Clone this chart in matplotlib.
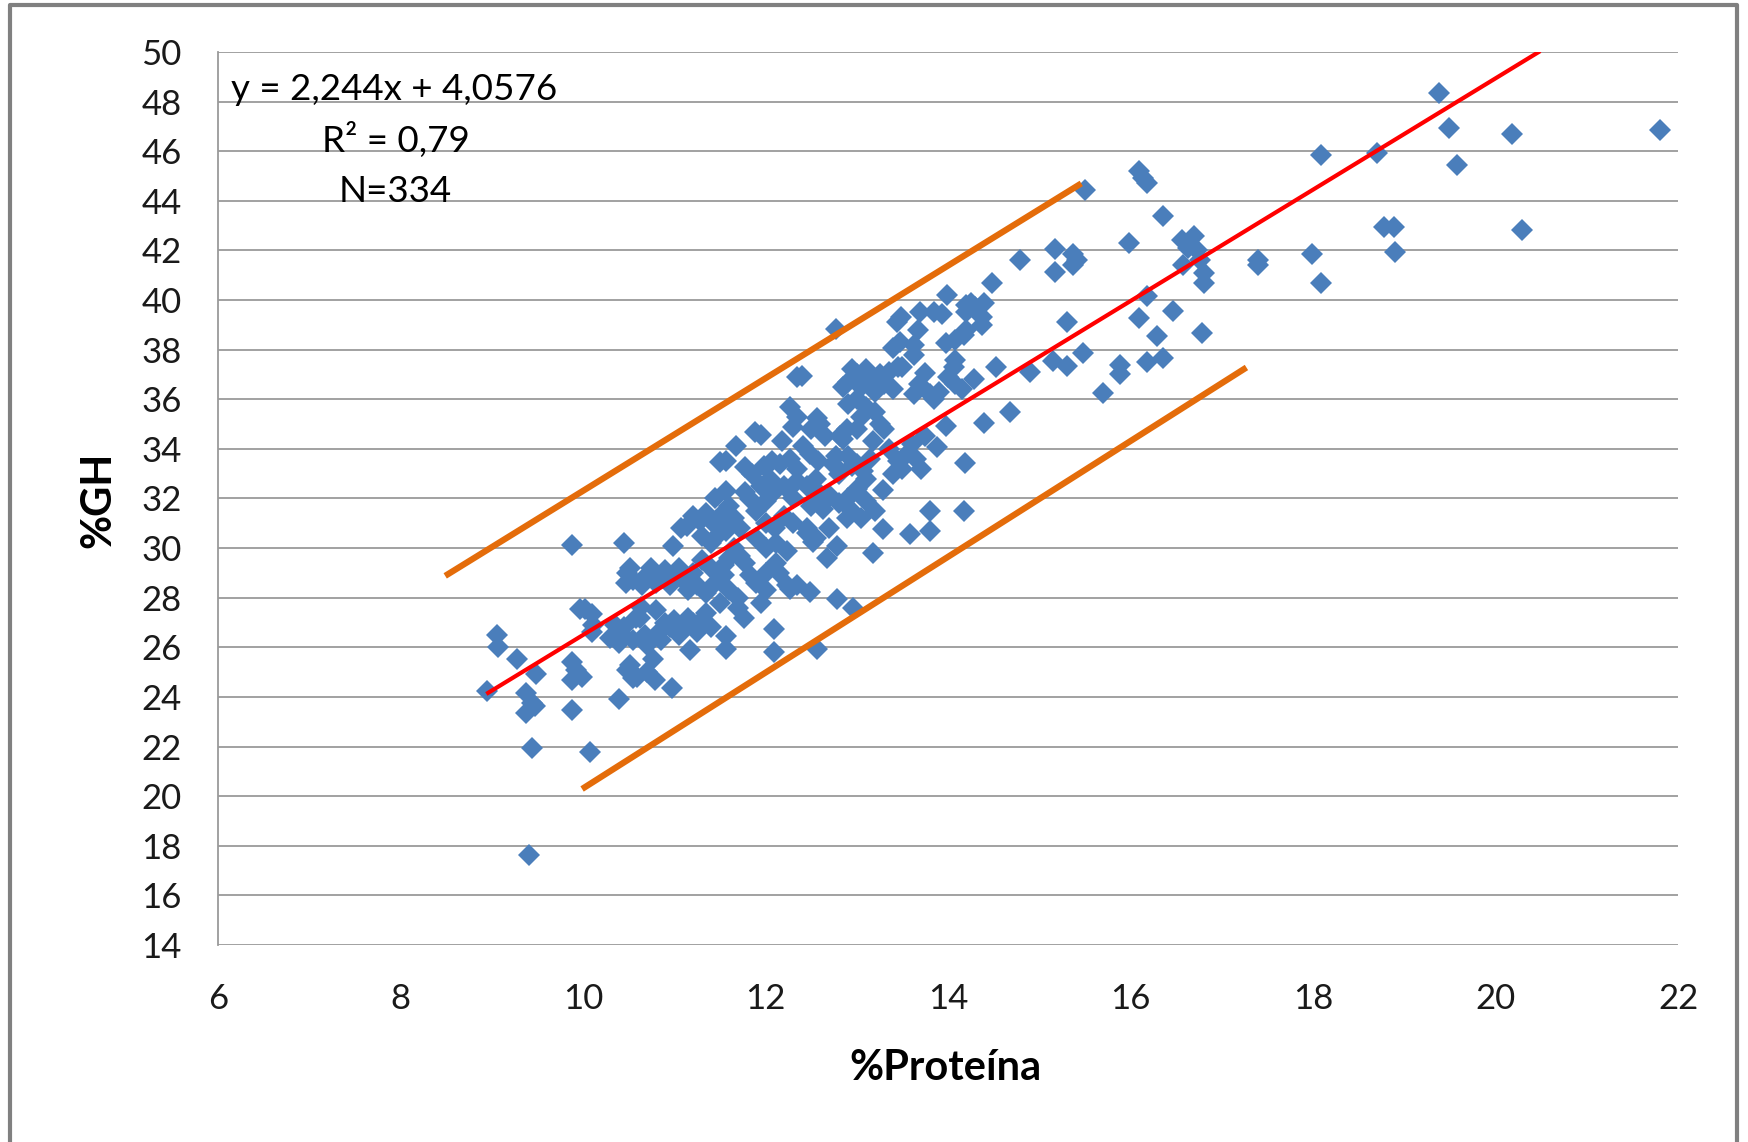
import matplotlib
matplotlib.use("Agg")
import matplotlib.pyplot as plt
from matplotlib.lines import Line2D

plt.rcParams["font.family"] = ["Lato", "DejaVu Sans"]

# puntos (%Proteína, %GH), por franjas de proteína
band_a = [(8.95, 24.25), (9.06, 26.49), (9.07, 26.02), (9.28, 25.51), (9.37, 24.17),
          (9.38, 23.36), (9.44, 23.75), (9.47, 23.63), (9.48, 24.92), (9.44, 21.95),
          (9.41, 17.62), (9.88, 30.13), (9.88, 25.42), (9.88, 24.7), (9.88, 23.47),
          (9.99, 24.8), (9.97, 27.55), (9.92, 25.1)]
band_b = [(10.02, 27.56), (10.1, 27.36), (10.11, 26.9), (10.08, 21.79), (10.1, 26.6),
          (10.3, 26.36), (10.39, 26.16), (10.4, 26.6), (10.39, 23.9), (10.45, 30.2),
          (10.48, 25.08), (10.59, 24.81), (10.47, 28.6), (10.48, 29.0), (10.52, 29.2),
          (10.55, 28.7), (10.35, 26.9), (10.45, 26.8), (10.55, 26.3), (10.58, 27.2),
          (10.52, 25.3), (10.55, 24.75)]
band_c = [(10.64, 27.63), (10.62, 27.17), (10.68, 26.49), (10.7, 25.01), (10.79, 24.68),
          (10.77, 25.51), (10.98, 24.38), (10.85, 26.7), (10.95, 26.8), (11.0, 27.1),
          (10.9, 27.0), (11.05, 26.5), (10.99, 30.08), (10.7, 28.9), (10.75, 29.2),
          (10.8, 28.6), (10.85, 28.9), (10.9, 29.1), (10.95, 28.5), (11.0, 28.8),
          (11.05, 29.2), (11.1, 28.7), (11.15, 28.3), (10.65, 28.5), (10.8, 27.5),
          (10.7, 26.1), (10.86, 26.3), (11.1, 26.8), (11.15, 27.2), (11.17, 25.9),
          (11.07, 30.8), (11.14, 30.9)]
band_d = [(11.2, 27.0), (11.3, 27.1), (11.25, 26.6), (11.4, 26.8), (11.35, 27.4),
          (11.57, 26.45), (11.57, 25.95), (11.76, 27.17), (11.7, 27.6), (11.21, 31.3),
          (11.28, 31.1), (11.35, 31.4), (11.43, 31.0), (11.5, 31.3), (11.3, 30.5),
          (11.4, 30.2), (11.5, 30.6), (11.57, 30.7), (11.65, 31.2), (11.72, 30.8),
          (11.65, 30.0), (11.72, 29.7), (11.78, 29.4), (11.6, 29.6), (11.4, 29.2),
          (11.3, 29.5), (11.2, 29.0), (11.25, 28.5), (11.35, 28.2), (11.45, 28.6),
          (11.55, 28.9), (11.6, 28.3), (11.7, 28.0), (11.5, 27.8), (11.68, 34.13),
          (11.5, 33.46), (11.57, 33.53), (11.78, 33.26), (11.57, 32.32), (11.78, 32.25),
          (11.45, 32.0), (11.6, 31.7), (11.55, 29.3)]
band_e = [(11.88, 34.69), (11.95, 34.55), (11.98, 33.3), (12.07, 33.5), (12.16, 33.4),
          (12.27, 33.6), (12.18, 34.3), (12.27, 35.69), (12.34, 35.3), (12.3, 34.9),
          (12.34, 36.89), (12.4, 36.95), (11.83, 31.99), (12.01, 31.9), (12.1, 32.3),
          (12.2, 32.5), (12.3, 32.0), (12.35, 32.7), (11.9, 31.5), (12.0, 31.0),
          (12.1, 30.8), (12.2, 31.3), (12.3, 31.0), (11.9, 30.4), (12.0, 30.0),
          (12.12, 30.2), (12.23, 29.9), (12.12, 29.4), (12.0, 29.0), (11.9, 28.6),
          (11.83, 28.9), (12.0, 28.3), (12.23, 28.5), (12.34, 28.5), (12.27, 28.36),
          (12.09, 26.75), (12.09, 25.8), (11.95, 27.8), (12.15, 29.0), (12.35, 33.2),
          (11.85, 33.0), (12.05, 32.8), (11.95, 32.5)]
band_f = [(12.45, 30.8), (12.52, 30.24), (12.67, 29.6), (12.78, 30.1), (12.49, 28.23),
          (12.78, 27.96), (12.96, 27.6), (12.56, 25.95), (12.56, 35.23), (12.41, 34.1),
          (12.49, 33.8), (12.74, 33.4), (12.8, 33.0), (12.77, 33.7), (12.71, 32.1),
          (12.63, 31.56), (12.45, 30.6), (12.82, 34.5), (12.89, 34.8), (12.85, 34.4),
          (12.45, 32.5), (12.55, 32.8), (12.6, 32.2), (12.5, 31.7), (12.58, 33.5),
          (12.65, 34.5), (12.5, 34.8), (12.6, 35.0), (12.77, 38.85), (12.9, 36.7),
          (12.95, 37.2), (12.85, 36.5), (12.9, 35.8), (12.9, 32.0), (12.95, 31.5),
          (12.89, 31.2), (12.8, 31.8), (12.55, 30.4), (12.7, 30.8), (12.95, 33.3),
          (12.9, 33.7)]
band_g = [(13.0, 37.0), (13.05, 36.5), (13.1, 37.2), (13.15, 36.8), (13.2, 36.3),
          (13.25, 37.0), (13.3, 36.6), (13.35, 37.1), (13.4, 36.4), (13.45, 37.3),
          (13.0, 36.0), (13.1, 35.7), (13.2, 35.5), (13.25, 35.0), (13.3, 34.8),
          (13.18, 34.3), (13.4, 38.07), (13.44, 39.1), (13.48, 39.3), (13.47, 38.3),
          (13.5, 37.3), (13.5, 33.2), (13.55, 33.8), (13.45, 33.5), (13.0, 33.4),
          (13.07, 33.1), (13.29, 32.33), (13.0, 32.4), (13.1, 31.9), (13.2, 31.5),
          (13.29, 30.76), (13.18, 29.8), (13.05, 31.2), (13.1, 32.8), (13.15, 33.6),
          (13.0, 34.8), (13.05, 35.3), (13.35, 34.0), (13.4, 33.0)]
band_h = [(13.69, 39.5), (13.67, 38.8), (13.85, 39.5), (13.93, 39.45), (13.99, 40.2),
          (13.98, 38.27), (14.08, 38.4), (14.17, 38.6), (13.63, 38.2), (13.63, 37.8),
          (14.08, 37.6), (14.06, 37.3), (13.75, 37.06), (13.68, 36.6), (13.63, 36.2),
          (13.8, 36.2), (13.9, 36.3), (14.08, 36.6), (14.15, 36.4), (13.85, 36.0),
          (13.98, 34.93), (13.88, 34.07), (14.19, 33.43), (13.6, 34.2), (13.65, 33.6),
          (13.7, 33.2), (13.58, 30.56), (13.8, 30.7), (13.8, 31.5), (14.17, 31.5),
          (13.75, 34.5), (14.0, 36.9)]
band_i = [(14.2, 39.8), (14.25, 39.9), (14.3, 39.7), (14.39, 39.9), (14.37, 39.3),
          (14.37, 39.0), (14.2, 39.5), (14.48, 40.67), (14.53, 37.3), (14.39, 35.03),
          (14.68, 35.5), (14.79, 41.6), (14.9, 37.1), (14.28, 36.8), (14.2, 38.8)]
band_j = [(15.17, 42.07), (15.37, 41.87), (15.41, 41.6), (15.37, 41.4), (15.17, 41.15),
          (15.5, 44.45), (15.3, 39.13), (15.48, 37.85), (15.15, 37.53), (15.3, 37.33),
          (15.88, 37.4), (15.88, 37.0), (15.7, 36.27), (15.98, 42.3)]
band_k = [(16.09, 45.19), (16.14, 44.92), (16.18, 44.72), (16.36, 43.38), (16.56, 42.43),
          (16.69, 42.57), (16.63, 42.1), (16.73, 42.03), (16.58, 41.42), (16.76, 41.63),
          (16.8, 41.09), (16.8, 40.7), (16.18, 40.15), (16.09, 39.27), (16.47, 39.54),
          (16.29, 38.53), (16.78, 38.67), (16.18, 37.52), (16.36, 37.66)]
band_l = [(17.4, 41.6), (17.4, 41.4), (17.99, 41.84), (18.09, 40.7), (18.09, 45.84),
          (18.7, 45.91), (18.78, 42.95), (18.89, 42.95), (18.9, 41.95), (19.38, 48.35),
          (19.49, 46.95), (19.58, 45.44), (20.18, 46.71), (20.29, 42.82), (21.8, 46.87)]

points = (band_a + band_b + band_c + band_d + band_e + band_f
          + band_g + band_h + band_i + band_j + band_k + band_l)
protein = [p[0] for p in points]
gh = [p[1] for p in points]

# recta de regresión (ecuación del gráfico) y líneas de banda
SLOPE = 2.244
INTERCEPT = 4.0576
reg_x = [8.96, 20.47]
upper_x, upper_y = [8.49, 15.46], [28.88, 44.70]
lower_x, lower_y = [9.99, 17.27], [20.29, 37.28]

x_ticks = list(range(6, 23, 2))
y_ticks = list(range(14, 51, 2))

fig = plt.figure(figsize=(17.48, 11.42), dpi=100)
ax = fig.add_axes([0.1247, 0.1725, 0.8353, 0.782])

ax.plot(protein, gh, linestyle="none", marker="D", ms=11, mew=0,
        color="#4a7ebb", zorder=2)
ax.plot(reg_x, [SLOPE * x + INTERCEPT for x in reg_x], color="#ff0000",
        lw=3, zorder=3)
ax.plot(upper_x, upper_y, color="#e46c0a", lw=4.5, solid_capstyle="butt", zorder=3)
ax.plot(lower_x, lower_y, color="#e46c0a", lw=4.5, solid_capstyle="butt", zorder=3)

ax.set_xlim(6, 22)
ax.set_ylim(14, 50)
ax.set_xticks(x_ticks)
ax.set_yticks(y_ticks)
ax.grid(axis="y", color="#9a9a9a", lw=1.3)
ax.set_axisbelow(True)
for side in ["top", "right", "bottom"]:
    ax.spines[side].set_visible(False)
ax.spines["left"].set_color("#9a9a9a")
ax.spines["left"].set_linewidth(1.3)
ax.tick_params(axis="both", length=0, labelsize=25, colors="#1a1a1a")
ax.tick_params(axis="y", pad=26)
ax.tick_params(axis="x", pad=27)

ax.text(6.14, 48.5, "y = 2,244x + 4,0576", fontsize=26.5, ha="left", va="center")
ax.text(7.95, 46.45, "R² = 0,79", fontsize=26.5, ha="center", va="center")
ax.text(7.94, 44.38, "N=334", fontsize=26.5, ha="center", va="center")

fig.text(0.541, 0.065, "%Proteína", fontsize=30, fontweight="bold",
         ha="center", va="center")
fig.text(0.056, 0.562, "%GH", fontsize=30, fontweight="bold", rotation=90,
         ha="center", va="center")

# marco exterior gris
fig.add_artist(Line2D([0.0055, 0.0055, 0.9935, 0.9935], [0.0, 0.9955, 0.9955, 0.0],
                      transform=fig.transFigure, color="#808080", lw=3))

fig.savefig("out.png", dpi=100)
